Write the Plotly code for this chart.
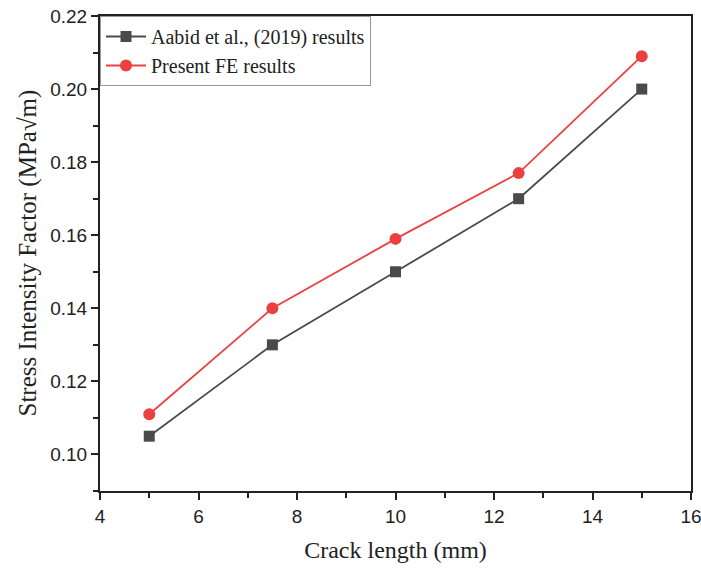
import plotly.graph_objects as go

crack_length = [5, 7.5, 10, 12.5, 15]
aabid_results = [0.105, 0.130, 0.150, 0.170, 0.200]
present_fe = [0.111, 0.140, 0.159, 0.177, 0.209]

x_ticks = [4, 6, 8, 10, 12, 14, 16]
y_ticks = [0.10, 0.12, 0.14, 0.16, 0.18, 0.20, 0.22]

fig = go.Figure()
fig.add_trace(go.Scatter(
    x=crack_length, y=aabid_results, mode="lines+markers",
    name="Aabid et al., (2019) results",
    line=dict(color="#4a4a4a", width=1.8),
    marker=dict(symbol="square", size=11, color="#4a4a4a"),
))
fig.add_trace(go.Scatter(
    x=crack_length, y=present_fe, mode="lines+markers",
    name="Present FE results",
    line=dict(color="#ec4040", width=1.8),
    marker=dict(symbol="circle", size=12, color="#ec4040"),
))

axis_common = dict(
    showline=True, linecolor="#222", linewidth=2, mirror=True,
    ticks="outside", ticklen=7, tickwidth=2, tickcolor="#222",
    showgrid=False, zeroline=False, automargin=False,
    ticklabeloverflow="allow",
    tickfont=dict(family="Liberation Sans, Arial", size=19, color="#222"),
)

fig.update_xaxes(
    range=[4, 16], tickvals=x_ticks, ticktext=[str(v) for v in x_ticks],
    minor=dict(ticks="outside", ticklen=5, tickwidth=1.5, tickcolor="#222", dtick=1, tick0=0),
    title=dict(text="Crack length (mm)", font=dict(family="Liberation Serif, Times New Roman", size=24, color="#222")),
    **axis_common,
)
fig.update_yaxes(
    range=[0.09, 0.22], tickvals=y_ticks, ticktext=[f"{v:.2f}" for v in y_ticks],
    minor=dict(ticks="outside", ticklen=5, tickwidth=1.5, tickcolor="#222", dtick=0.01, tick0=0),
    **axis_common,
)

fig.add_annotation(
    text="Stress Intensity Factor (MPa√m)",
    xref="paper", yref="paper", x=0, y=0.5, xanchor="center", yanchor="middle",
    xshift=-73, textangle=-90, showarrow=False,
    font=dict(family="Liberation Serif, Times New Roman", size=25, color="#222"),
)

fig.update_layout(
    width=701, height=569,
    margin=dict(l=100, r=10, t=16, b=78),
    paper_bgcolor="white", plot_bgcolor="white",
    legend=dict(
        x=0, y=1, xanchor="left", yanchor="top",
        bordercolor="#999", borderwidth=1, bgcolor="rgba(255,255,255,0)",
        font=dict(family="Liberation Serif, Times New Roman", size=20, color="#222"),
        tracegroupgap=0, itemwidth=40,
    ),
    showlegend=True,
)

fig.write_html("out.html")
